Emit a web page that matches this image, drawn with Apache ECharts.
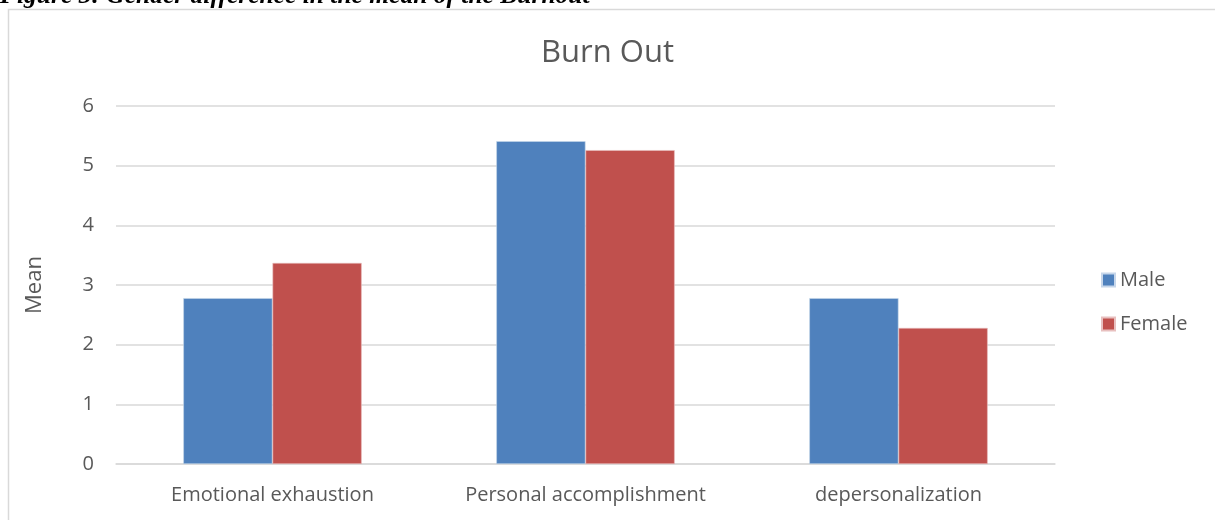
<!DOCTYPE html>
<html>
<head>
<meta charset="utf-8">
<script src="https://cdn.jsdelivr.net/npm/echarts@6/dist/echarts.min.js"></script>
<style>
  html, body { margin: 0; padding: 0; background: #fff; }
  #chart { width: 1215px; height: 520px; }
</style>
</head>
<body>
<div id="chart"></div>
<script>
// Burnout subscale means by gender
const categories = ['Emotional exhaustion', 'Personal accomplishment', 'depersonalization'];
const maleMeans = [2.78, 5.41, 2.78];
const femaleMeans = [3.37, 5.26, 2.28];
const seriesNames = ['Male', 'Female'];
const yTicks = { min: 0, max: 6, interval: 1 };

const FONT = '"Open Sans", "Noto Sans", sans-serif';
const TEXT = '#595959';

const chart = echarts.init(document.getElementById('chart'), null, { renderer: 'canvas' });
chart.setOption({
  backgroundColor: '#ffffff',
  animation: false,
  graphic: [
    {
      type: 'rect',
      left: 6, top: 7,
      shape: { width: 1240, height: 540 },
      style: { fill: 'none', stroke: '#d9d9d9', lineWidth: 1.5 },
      silent: true
    },
    {
      type: 'text',
      left: 0, top: -17,
      style: {
        text: 'Figure 3: Gender difference in the mean of the Burnout',
        font: 'italic bold 25.5px "Liberation Serif", "DejaVu Serif", serif',
        fill: '#000'
      },
      silent: true
    }
  ],
  title: {
    text: 'Burn Out',
    left: 'center',
    top: 33,
    textStyle: { fontFamily: FONT, fontSize: 31, fontWeight: 'normal', color: TEXT }
  },
  legend: {
    data: seriesNames,
    orient: 'vertical',
    left: 1096,
    top: 265,
    itemWidth: 13,
    itemHeight: 13,
    itemGap: 24,
    icon: 'rect',
    textStyle: { fontFamily: FONT, fontSize: 20, color: TEXT }
  },
  grid: { left: 116, right: 160, top: 106, bottom: 56, containLabel: false },
  xAxis: {
    type: 'category',
    data: categories,
    axisLine: { show: true, lineStyle: { color: '#d9d9d9', width: 1.5 } },
    axisTick: { show: false },
    axisLabel: { fontFamily: FONT, fontSize: 20, color: TEXT, margin: 21 }
  },
  yAxis: {
    type: 'value',
    min: yTicks.min, max: yTicks.max, interval: yTicks.interval,
    name: 'Mean',
    nameLocation: 'middle',
    nameGap: 70,
    nameTextStyle: { fontFamily: FONT, fontSize: 22, color: TEXT },
    axisLine: { show: false },
    axisTick: { show: false },
    axisLabel: { fontFamily: FONT, fontSize: 20, color: TEXT, margin: 22 },
    splitLine: { lineStyle: { color: '#d9d9d9', width: 1.5 } }
  },
  series: [
    {
      name: seriesNames[0], type: 'bar', data: maleMeans,
      barGap: '0%', barCategoryGap: '43%',
      itemStyle: { color: '#4f81bd', borderColor: '#c6d6ea', borderWidth: 0.6 }
    },
    {
      name: seriesNames[1], type: 'bar', data: femaleMeans,
      barGap: '0%', barCategoryGap: '43%',
      itemStyle: { color: '#c0504d', borderColor: '#e8c0bf', borderWidth: 0.6 }
    }
  ]
});
</script>
</body>
</html>
